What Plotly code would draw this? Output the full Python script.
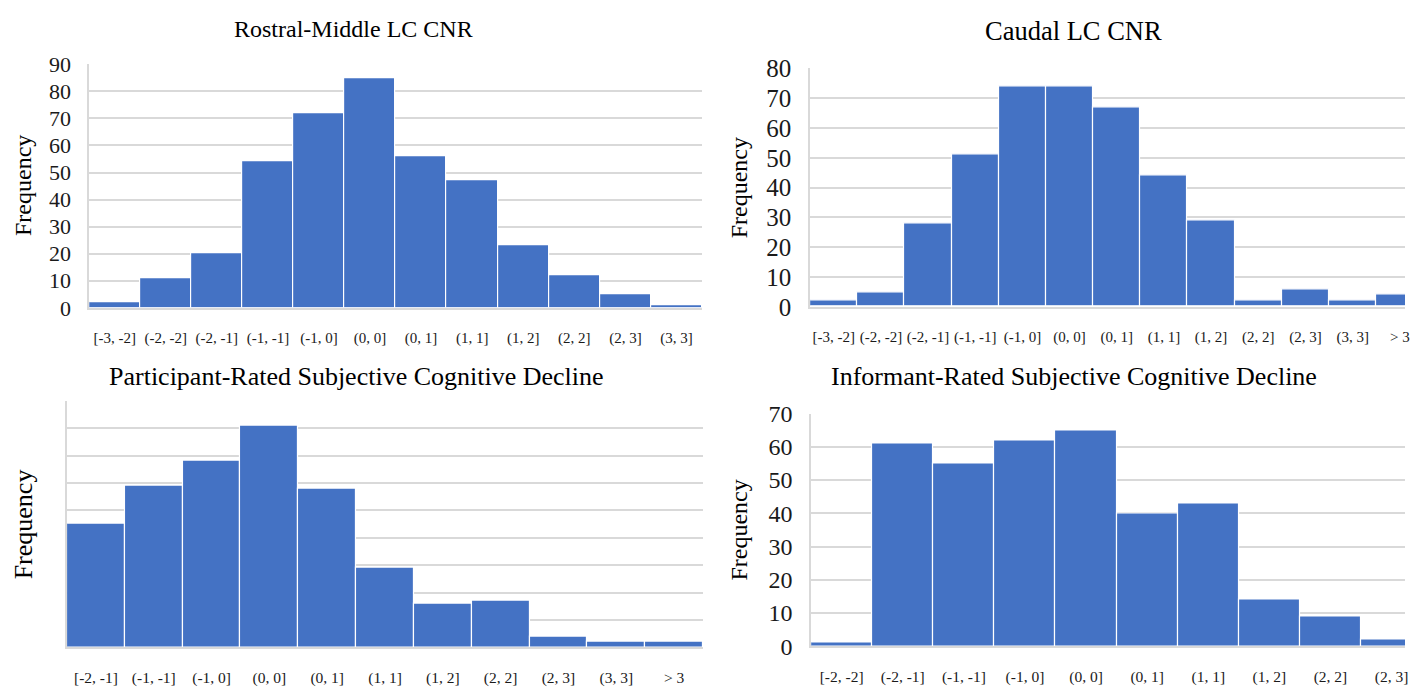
import plotly.graph_objects as go

# ---------------- data ----------------
rm_labels = ["[-3, -2]", "(-2, -2]", "(-2, -1]", "(-1, -1]", "(-1, 0]", "(0, 0]",
             "(0, 1]", "(1, 1]", "(1, 2]", "(2, 2]", "(2, 3]", "(3, 3]"]
rm_values = [2, 11, 20, 54, 72, 85, 56, 47, 23, 12, 5, 1]

cd_labels = ["[-3, -2]", "(-2, -2]", "(-2, -1]", "(-1, -1]", "(-1, 0]", "(0, 0]",
             "(0, 1]", "(1, 1]", "(1, 2]", "(2, 2]", "(2, 3]", "(3, 3]", "> 3"]
cd_values = [2, 5, 28, 51, 74, 74, 67, 44, 29, 2, 6, 2, 4]

pr_labels = ["[-2, -1]", "(-1, -1]", "(-1, 0]", "(0, 0]", "(0, 1]", "(1, 1]",
             "(1, 2]", "(2, 2]", "(2, 3]", "(3, 3]", "> 3"]
pr_values = [45, 59, 68, 81, 58, 29, 16, 17, 4, 2, 2]

ir_labels = ["[-2, -2]", "(-2, -1]", "(-1, -1]", "(-1, 0]", "(0, 0]", "(0, 1]",
             "(1, 1]", "(1, 2]", "(2, 2]", "(2, 3]"]
ir_values = [1, 61, 55, 62, 65, 40, 43, 14, 9, 2]

titles = ["Rostral-Middle LC CNR", "Caudal LC CNR",
          "Participant-Rated Subjective Cognitive Decline",
          "Informant-Rated Subjective Cognitive Decline"]

W, H = 1410, 698
BAR = "#4472C4"
GRID = "#d9d9d9"
FONT = "Liberation Serif"
TXT = "#1a1a1a"


def px_x(x):
    return x / W


def px_y(y):
    return 1 - y / H


fig = go.Figure()

panels = [
    (rm_labels, rm_values, 89.5, 704.5, 53.3, 306.7, 90, 10, True, None, 22, 15),
    (cd_labels, cd_values, 813, 1410, 57.7, 305.7, 80, 10, True, 12.11, 25, 15),
    (pr_labels, pr_values, 67.3, 705.5, 403.3, 660, 90, 10, False, None, 22, 15.5),
    (ir_labels, ir_values, 814, 1410, 416.7, 658.7, 70, 10, True, 9.22, 24, 15.5),
]

for i, (labs, vals, xl, xr, yt, yb, ymax, dt, showy, xend, ytf, xtf) in enumerate(panels):
    n = i + 1
    xa = "x" if n == 1 else f"x{n}"
    ya = "y" if n == 1 else f"y{n}"
    fig.add_trace(go.Bar(
        x=list(range(len(labs))), y=vals, xaxis=xa, yaxis=ya,
        marker=dict(color=BAR, line=dict(color="white", width=1.2)),
        showlegend=False, hoverinfo="skip",
    ))
    end = xend if xend is not None else len(labs) - 0.5
    fig.update_layout(**{
        ("xaxis" if n == 1 else f"xaxis{n}"): dict(
            domain=[px_x(xl), min(1.0, px_x(xr))],
            anchor=ya,
            range=[-0.5, end],
            tickmode="array", tickvals=list(range(len(labs))), ticktext=labs,
            tickfont=dict(family=FONT, size=xtf, color=TXT),
            ticks="outside", ticklen=15, tickcolor="rgba(0,0,0,0)",
            ticklabeloverflow="allow",
            showgrid=False, zeroline=False,
            showline=True, linecolor=GRID, linewidth=1.5,
            fixedrange=True,
        ),
        ("yaxis" if n == 1 else f"yaxis{n}"): dict(
            domain=[px_y(yb), px_y(yt)],
            anchor=xa,
            range=[0, ymax],
            tickmode="linear", tick0=0, dtick=dt,
            showticklabels=showy,
            tickfont=dict(family=FONT, size=ytf, color=TXT),
            ticks="outside", ticklen=12, tickcolor="rgba(0,0,0,0)",
            showgrid=True, gridcolor=GRID, gridwidth=1.5,
            zeroline=False,
            showline=True, linecolor=GRID, linewidth=1.5,
            fixedrange=True,
        ),
    })

title_specs = [
    (titles[0], 355, 17, 24),
    (titles[1], 1077, 19, 26.5),
    (titles[2], 358, 378, 26),
    (titles[3], 1078, 378, 26),
]
for txt, cx, cy, sz in title_specs:
    fig.add_annotation(text=txt, x=px_x(cx), y=px_y(cy), xref="paper", yref="paper",
                       xanchor="center", yanchor="middle", showarrow=False,
                       font=dict(family=FONT, size=sz, color="black"))

freq_specs = [(23, 179, 24), (742, 182, 24), (24, 532, 26), (742, 538, 24)]
for cx, cy, sz in freq_specs:
    fig.add_annotation(text="Frequency", x=px_x(cx), y=px_y(cy), xref="paper", yref="paper",
                       xanchor="center", yanchor="middle", showarrow=False, textangle=-90,
                       font=dict(family=FONT, size=sz, color="black"))

fig.update_layout(
    width=W, height=H,
    margin=dict(l=0, r=0, t=0, b=0),
    paper_bgcolor="white", plot_bgcolor="white",
    bargap=0,
)

fig.write_html(
    "out.html",
    config={"displayModeBar": False, "responsive": False},
    post_script="document.body.style.margin='0';document.body.style.overflow='hidden';",
)
